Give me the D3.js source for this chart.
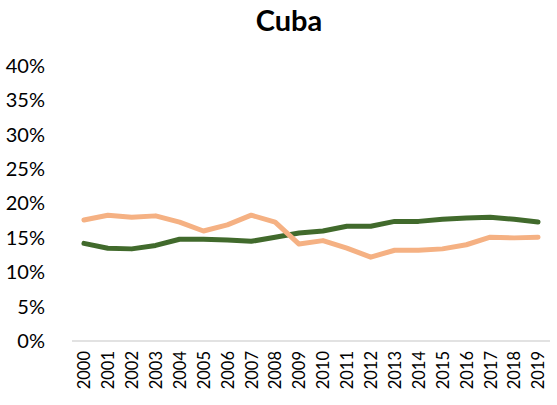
<!DOCTYPE html>
<head>
    <meta charset="utf-8">
    <script src="https://d3js.org/d3.v7.min.js"></script>
</head>
<style>
    body { margin: 0; background: #fff; }
    text { font-family: Lato, "Noto Sans", sans-serif; }
    .xaxis path, .yaxis path, .yaxis line, .xaxis line { stroke: none; }
</style>
<body>
    <div id="chart"></div>
</body>

<script>
    const years = ["2000","2001","2002","2003","2004","2005","2006","2007","2008","2009",
                   "2010","2011","2012","2013","2014","2015","2016","2017","2018","2019"];
    const greenSeries = [14.2, 13.5, 13.4, 13.9, 14.8, 14.8, 14.7, 14.5, 15.1, 15.7,
                         16.0, 16.7, 16.7, 17.4, 17.4, 17.7, 17.9, 18.0, 17.7, 17.3];
    const orangeSeries = [17.6, 18.3, 18.0, 18.2, 17.3, 16.0, 16.9, 18.3, 17.3, 14.1,
                          14.6, 13.5, 12.2, 13.2, 13.2, 13.4, 14.0, 15.1, 15.0, 15.1];
    const yTicks = [0, 5, 10, 15, 20, 25, 30, 35, 40];

    const W = 557, H = 405;
    const margin = {top: 66, right: 7, bottom: 64, left: 72},
        width = W - margin.left - margin.right,
        height = H - margin.top - margin.bottom;

    const svg = d3.select("#chart")
        .append("svg")
        .attr("width", W)
        .attr("height", H);

    svg.append("text")
        .attr("x", 289)
        .attr("y", 31)
        .attr("text-anchor", "middle")
        .style("font-size", "29px")
        .style("font-weight", "bold")
        .text("Cuba");

    const g = svg.append("g")
        .attr("transform", `translate(${margin.left},${margin.top})`);

    const x = d3.scalePoint()
        .domain(years)
        .range([0, width])
        .padding(0.5);

    const y = d3.scaleLinear()
        .domain([0, 40])
        .range([height, 0]);

    // y axis labels
    g.append("g")
        .attr("class", "yaxis")
        .attr("transform", "translate(-24,0)")
        .call(d3.axisLeft(y).tickValues(yTicks).tickFormat(d => d + "%").tickSize(0))
        .selectAll("text")
        .style("font-size", "20px")
        .style("fill", "#000");

    // baseline
    g.append("line")
        .attr("x1", 0).attr("x2", width)
        .attr("y1", y(0)).attr("y2", y(0))
        .attr("stroke", "#d9d9d9")
        .attr("stroke-width", 1.5);

    // x axis labels
    g.append("g")
        .attr("class", "xaxis")
        .attr("transform", `translate(0,${height})`)
        .call(d3.axisBottom(x).tickSize(0))
        .selectAll("text")
        .attr("transform", "rotate(-90)")
        .attr("text-anchor", "end")
        .attr("x", -10)
        .attr("y", 0)
        .attr("dy", "0.35em")
        .style("font-size", "16.5px")
        .style("fill", "#000");

    const line = d3.line()
        .x((d, i) => x(years[i]))
        .y(d => y(d));

    g.append("path")
        .datum(greenSeries)
        .attr("fill", "none")
        .attr("stroke", "#416a2c")
        .attr("stroke-width", 5)
        .attr("stroke-linejoin", "round")
        .attr("stroke-linecap", "round")
        .attr("d", line);

    g.append("path")
        .datum(orangeSeries)
        .attr("fill", "none")
        .attr("stroke", "#f5b183")
        .attr("stroke-width", 5)
        .attr("stroke-linejoin", "round")
        .attr("stroke-linecap", "round")
        .attr("d", line);
</script>
